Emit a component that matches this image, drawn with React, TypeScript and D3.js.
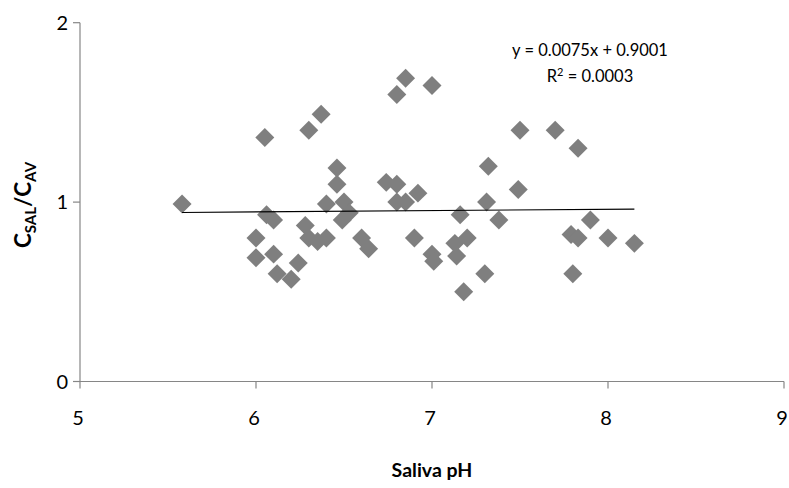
import React from 'react';
import * as d3 from 'd3';

// saliva pH vs C_SAL/C_AV
const ph = [
  5.58, 6.05, 6.30, 6.37, 6.46, 6.46, 6.40, 6.50, 6.53, 6.49,
  6.06, 6.10, 6.00, 6.28, 6.30, 6.35, 6.40, 6.60, 6.64, 6.00,
  6.10, 6.24, 6.12, 6.20, 6.85, 6.80, 7.00, 6.74, 6.80, 6.92,
  6.80, 6.85, 7.32, 7.31, 7.16, 7.38, 6.90, 7.13, 7.20, 7.00,
  7.01, 7.14, 7.30, 7.18, 7.50, 7.70, 7.83, 7.49, 7.90, 7.79,
  7.83, 8.00, 8.15, 7.80,
];
const ratio = [
  0.99, 1.36, 1.40, 1.49, 1.19, 1.10, 0.99, 1.00, 0.94, 0.90,
  0.93, 0.90, 0.80, 0.87, 0.80, 0.78, 0.80, 0.80, 0.74, 0.69,
  0.71, 0.66, 0.60, 0.57, 1.69, 1.60, 1.65, 1.11, 1.10, 1.05,
  1.00, 1.00, 1.20, 1.00, 0.93, 0.90, 0.80, 0.77, 0.80, 0.71,
  0.67, 0.70, 0.60, 0.50, 1.40, 1.40, 1.30, 1.07, 0.90, 0.82,
  0.80, 0.80, 0.77, 0.60,
];
const xTicks = [5, 6, 7, 8, 9];
const yTicks = [0, 1, 2];
const slope = 0.0075;
const intercept = 0.9001;

const font = 'Lato, "Open Sans", sans-serif';
const axisColor = '#868686';

export default function App() {
  const width = 789;
  const height = 488;

  const x = d3.scaleLinear().domain([5, 9]).range([80, 784]);
  const y = d3.scaleLinear().domain([0, 2]).range([381.5, 22.7]);

  const pts = ph.map((p, i) => ({ p, r: ratio[i] }));
  const diamond = d3.symbol().type(d3.symbolSquare).size(180)();

  const [x0, x1] = d3.extent(ph) as [number, number];
  const trend = d3.line<number>()
    .x(d => x(d))
    .y(d => y(slope * d + intercept));

  return (
    <svg width={width} height={height} style={{ position: 'absolute', left: 0, top: 0, background: '#fff' }}>
      {/* axes */}
      <line x1={x(5)} x2={x(5)} y1={y(2)} y2={y(0)} stroke={axisColor} strokeWidth={1.2} />
      <line x1={x(5)} x2={x(9)} y1={y(0)} y2={y(0)} stroke={axisColor} strokeWidth={1.2} />
      {yTicks.map(t => (
        <g key={'y' + t}>
          <line x1={x(5) - 7} x2={x(5)} y1={y(t)} y2={y(t)} stroke={axisColor} strokeWidth={1.2} />
          <text x={x(5) - 12} y={y(t)} dy="0.35em" textAnchor="end" fontFamily={font} fontSize={20} fill="#000">{t}</text>
        </g>
      ))}
      {xTicks.map(t => (
        <g key={'x' + t}>
          <line x1={x(t)} x2={x(t)} y1={y(0)} y2={y(0) + 7} stroke={axisColor} strokeWidth={1.2} />
          <text x={x(t) - 2} y={y(0) + 36} dy="0.35em" textAnchor="middle" fontFamily={font} fontSize={20} fill="#000">{t}</text>
        </g>
      ))}

      {/* points */}
      {pts.map((d, i) => (
        <path key={i} d={diamond} transform={`translate(${x(d.p)},${y(d.r)}) rotate(45)`} fill="#7f7f7f" />
      ))}

      {/* linear trendline */}
      <path d={trend([x0, x1]) || ''} fill="none" stroke="#000" strokeWidth={1.2} />

      <text x={590} y={50} dy="0.35em" textAnchor="middle" fontFamily={font} fontSize={16.5} fill="#000">
        y = 0.0075x + 0.9001
      </text>
      <text x={590} y={76} dy="0.35em" textAnchor="middle" fontFamily={font} fontSize={16.5} fill="#000">
        R<tspan dy="-6" fontSize={11}>2</tspan><tspan dy="6"> = 0.0003</tspan>
      </text>

      {/* axis titles */}
      <text x={432} y={470} dy="0.35em" textAnchor="middle" fontFamily={font} fontSize={19.5} fontWeight="bold" fill="#000">
        Saliva pH
      </text>
      <text transform="translate(23,205) rotate(-90)" textAnchor="middle" dy="0.35em" fontFamily={font} fontSize={22.5} fontWeight="bold" fill="#000">
        C<tspan fontSize={15} dy="5">SAL</tspan><tspan dy="-5">/C</tspan><tspan fontSize={15} dy="5">AV</tspan>
      </text>
    </svg>
  );
}
